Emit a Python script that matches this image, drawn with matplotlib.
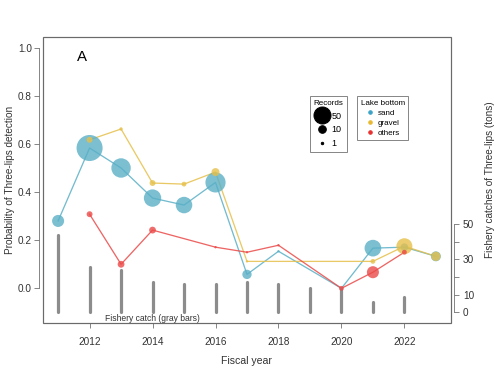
import matplotlib.pyplot as plt
from matplotlib.lines import Line2D
from matplotlib.patches import Rectangle

plt.rcParams['font.family'] = ['Liberation Sans', 'DejaVu Sans']

# detection probability and number of records per lake bottom type
sand_years = [2011, 2012, 2013, 2014, 2015, 2016, 2017, 2018, 2020, 2021, 2022, 2023]
sand_prob = [0.28, 0.583, 0.50, 0.375, 0.346, 0.44, 0.058, 0.154, 0.0, 0.167, 0.171, 0.133]
sand_n = [25, 117, 65, 52, 47, 70, 15, 1, 1, 48, 10, 17]

gravel_years = [2012, 2013, 2014, 2015, 2016, 2017, 2021, 2022, 2023]
gravel_prob = [0.617, 0.662, 0.4375, 0.433, 0.483, 0.112, 0.112, 0.175, 0.133]
gravel_n = [6, 2, 6, 4, 11, 1, 4, 44, 15]

others_years = [2012, 2013, 2014, 2016, 2017, 2018, 2020, 2021, 2022]
others_prob = [0.308, 0.10, 0.242, 0.171, 0.15, 0.179, 0.0, 0.067, 0.15]
others_n = [6, 8, 8, 1, 1, 1, 4, 25, 4]

# fishery catch (tons)
catch_years = [2011, 2012, 2013, 2014, 2015, 2016, 2017, 2018, 2019, 2020, 2021, 2022]
catch_tons = [44, 26, 24, 17, 16, 16, 17, 16, 14, 13, 6, 8.5]

sand_col = '#5aafc6'
gravel_col = '#e6c04a'
others_col = '#ea4a48'
axis_col = '#6a6a6a'
text_col = '#333333'
size_k = 5.8

fig = plt.figure(figsize=(7, 5.25), dpi=72)
ax = fig.add_axes([0.0853, 0.1455, 0.8095, 0.7565])
ax2 = ax.twinx()
ax.set_zorder(2)
ax.patch.set_visible(False)

# gray catch bars on the right axis
ax2.vlines(catch_years, 0, catch_tons, colors='#8c8c8c', linewidth=3.2, capstyle='round')
ax2.set_ylim(-6, 156)
ax2.set_yticks([0, 10, 20, 30, 40, 50])
ax2.set_yticklabels(['0', '10', '', '30', '', '50'], rotation=90, va='center')
ax2.spines['right'].set_position(('outward', 3))
ax2.spines['right'].set_bounds(0, 50)
for side in ['top', 'left', 'bottom']:
    ax2.spines[side].set_visible(False)
ax2.spines['right'].set_color(axis_col)
ax2.tick_params(axis='y', colors=axis_col, labelcolor=text_col, labelsize=10, length=5, pad=4)
ax2.set_ylabel('Fishery catches of Three-lips (tons)', fontsize=10, color=text_col)
ax2.yaxis.set_label_coords(1.083, 0.5)

for yrs, prob, n, col in [(sand_years, sand_prob, sand_n, sand_col),
                          (gravel_years, gravel_prob, gravel_n, gravel_col),
                          (others_years, others_prob, others_n, others_col)]:
    ax.plot(yrs, prob, color=col, linewidth=1.3, alpha=0.85, zorder=2)
    ax.scatter(yrs, prob, s=[size_k * v for v in n], color=col, alpha=0.8,
               edgecolors='none', zorder=3)

ax.set_xlim(2010.52, 2023.48)
ax.set_ylim(-0.144, 1.044)
ax.set_xticks([2012, 2014, 2016, 2018, 2020, 2022])
ax.set_yticks([0.0, 0.2, 0.4, 0.6, 0.8, 1.0])
ax.set_yticklabels(['0.0', '0.2', '0.4', '0.6', '0.8', '1.0'], rotation=90, va='center')
ax.spines['left'].set_position(('outward', 4))
ax.spines['left'].set_bounds(0, 1)
for side in ['top', 'right', 'bottom']:
    ax.spines[side].set_visible(False)
ax.spines['left'].set_color(axis_col)
ax.tick_params(colors=axis_col, labelcolor=text_col, labelsize=10, length=5)
ax.tick_params(axis='x', pad=9)
ax.tick_params(axis='y', pad=2)
ax.set_xlabel('Fiscal year', fontsize=10.5, color=text_col, labelpad=9)
ax.set_ylabel('Probability of Three-lips detection', fontsize=10, color=text_col)
ax.yaxis.set_label_coords(-0.068, 0.5)

# plot box
ax.add_patch(Rectangle((0, 0), 1, 1, transform=ax.transAxes, fill=False,
                       edgecolor=axis_col, linewidth=1.2, clip_on=False, zorder=5))

ax.text(2011.75, 0.96, 'A', fontsize=15, ha='center', va='center')
ax.text(2014.0, -0.126, 'Fishery catch (gray bars)', fontsize=8.5, color=text_col,
        ha='center', va='center')

# records legend
rec_vals = [50, 10, 1]
rec_handles = [Line2D([], [], linestyle='none', marker='o', color='black',
                      markersize=(size_k * v) ** 0.5) for v in rec_vals]
leg1 = ax.legend(rec_handles, [str(v) for v in rec_vals], title='Records',
                 loc='upper left', bbox_to_anchor=(0.654, 0.794), fontsize=9,
                 title_fontsize=8, frameon=True, fancybox=False, edgecolor=axis_col,
                 handlelength=1.5, handletextpad=0.35, borderpad=0.4, labelspacing=0.55,
                 borderaxespad=0)
leg1.get_frame().set_linewidth(1.0)
ax.add_artist(leg1)

bottom_handles = [Line2D([], [], linestyle='none', marker='o', color=c, markersize=3.5)
                  for c in ['#3ba3c8', '#e8b830', '#e83030']]
leg2 = ax.legend(bottom_handles, ['sand', 'gravel', 'others'], title='Lake bottom',
                 loc='upper left', bbox_to_anchor=(0.77, 0.794), fontsize=8,
                 title_fontsize=8, frameon=True, fancybox=False, edgecolor=axis_col,
                 handlelength=1.3, handletextpad=0.3, borderpad=0.45, labelspacing=0.3,
                 borderaxespad=0)
leg2.get_frame().set_linewidth(1.0)

fig.savefig('out.png', dpi=72)
